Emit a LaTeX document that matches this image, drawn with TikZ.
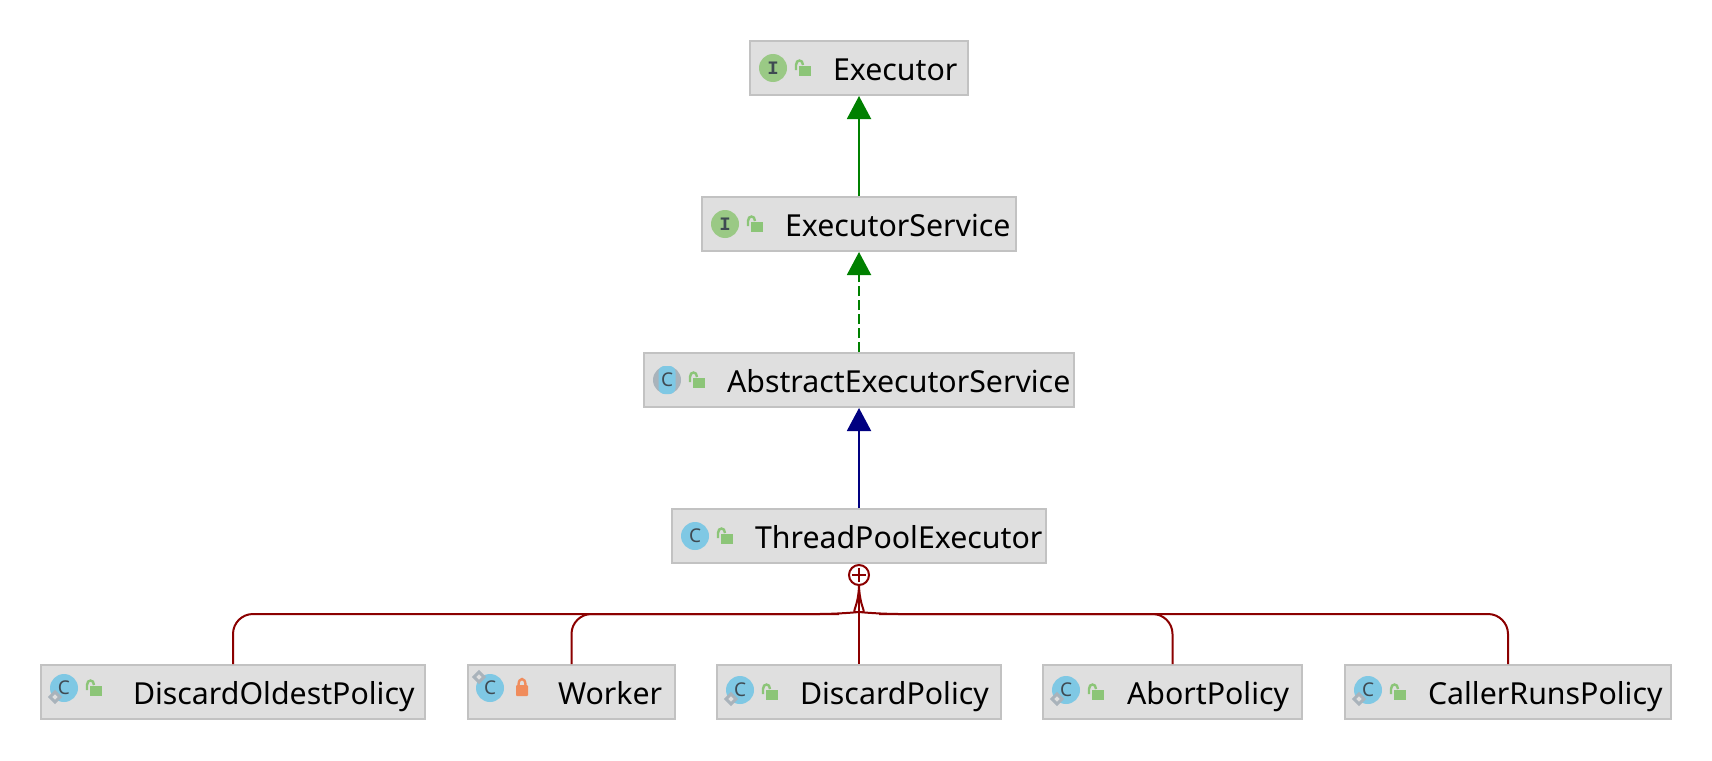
\documentclass[tikz,border=0pt]{standalone}
\usepackage{fontspec}
\setmainfont{Noto Sans}
\newfontfamily\iconmono{Liberation Mono}
\usepackage{xcolor}
\usepackage{tikz}
\usetikzlibrary{arrows.meta,calc,positioning}

\definecolor{boxfill}{HTML}{DFDFDF}
\definecolor{boxline}{HTML}{C2C2C2}
\definecolor{classblue}{HTML}{7FC8E4}
\definecolor{ifacegreen}{HTML}{9AC985}
\definecolor{lockgreen}{HTML}{8CC578}
\definecolor{lockorange}{HTML}{F08C5C}
\definecolor{icongray}{HTML}{A9B3BB}
\definecolor{lettergray}{HTML}{3F4A52}
\definecolor{nestred}{HTML}{8B0000}
\definecolor{extgreen}{HTML}{008000}
\definecolor{extblue}{HTML}{000080}

\tikzset{
    publock/.pic={
        \fill[lockgreen] (4,-2) rectangle (16,8);
        \draw[lockgreen,line width=2.4pt] (1,2) -- (1,-3) .. controls (1,-9) and (8,-9) .. (8,-3);
    },
    privlock/.pic={
        \fill[lockorange,rounded corners=1pt] (0,-3) rectangle (12,8);
        \draw[lockorange,line width=2.4pt] (2.5,-3) .. controls (2.5,-11) and (9.5,-11) .. (9.5,-3);
    }
}

\begin{document}
\begin{tikzpicture}[x=1pt,y=-1pt]
    \tikzstyle{classbox}=[draw=boxline,fill=boxfill,line width=2pt,minimum height=54pt,inner sep=0pt]
    \tikzstyle{classlabel}=[inner sep=0pt,outer sep=0pt,text height=24pt,text depth=0pt,font=\fontsize{30.3}{36}\selectfont]
    \tikzstyle{iconbase}=[circle,minimum size=28pt,inner sep=0pt,text=lettergray,font=\fontsize{19}{22}\selectfont]
    \tikzstyle{classicon}=[iconbase,fill=classblue]
    \tikzstyle{ifaceicon}=[iconbase,fill=ifacegreen,font=\iconmono\fontsize{19}{22}\selectfont\bfseries]
    \tikzstyle{absicon}=[classicon,rectangle,rounded corners=6pt,minimum width=17pt,minimum height=28pt]
    \tikzstyle{toolicon}=[draw=icongray,fill=boxfill,line width=3pt,rotate=45,minimum size=7pt,inner sep=0pt]
    \tikzstyle{inherit}=[line width=2pt,-{Triangle[length=23pt,width=24pt]}]
    \tikzstyle{nested}=[line width=2pt,nestred]

    \useasboundingbox (0,0) rectangle (1712,760);

    % hierarchy
    \node[classbox,minimum width=218pt] (executor) at (859,68) {};
    \node[classbox,minimum width=314pt] (service) at (859,224) {};
    \node[classbox,minimum width=430pt] (abstract) at (859,380) {};
    \node[classbox,minimum width=374pt] (pool) at (859,536) {};

    % inner classes
    \node[classbox,minimum width=384pt] (oldest) at (233,692) {};
    \node[classbox,minimum width=207pt] (worker) at (571.5,692) {};
    \node[classbox,minimum width=284pt] (discard) at (859,692) {};
    \node[classbox,minimum width=259pt] (abort) at (1172.5,692) {};
    \node[classbox,minimum width=326pt] (caller) at (1508,692) {};

    % labels
    \node[classlabel,right=84pt of executor.west] (executortext) {Executor};
    \node[classlabel,right=84pt of service.west] (servicetext) {ExecutorService};
    \node[classlabel,right=84pt of abstract.west] (abstracttext) {AbstractExecutorService};
    \node[classlabel,right=84pt of pool.west] (pooltext) {ThreadPoolExecutor};
    \node[classlabel,right=93pt of oldest.west] (oldesttext) {DiscardOldestPolicy};
    \node[classlabel,right=91pt of worker.west] (workertext) {Worker};
    \node[classlabel,right=84pt of discard.west] (discardtext) {DiscardPolicy};
    \node[classlabel,right=85pt of abort.west] (aborttext) {AbortPolicy};
    \node[classlabel,right=84pt of caller.west] (callertext) {CallerRunsPolicy};

    % icons
    \node[ifaceicon] (executoricon) at ($(executor.west)+(24,0)$) {I};
    \node[ifaceicon] (serviceicon) at ($(service.west)+(24,0)$) {I};
    \node[iconbase,fill=icongray] (abstractback) at ($(abstract.west)+(24,0)$) {};
    \node[absicon] (abstracticon) at (abstractback) {C};
    \node[classicon] (poolicon) at ($(pool.west)+(24,0)$) {C};
    \node[classicon] (oldesticon) at ($(oldest.west)+(24,-4)$) {C};
    \node[toolicon] (oldesttool) at ($(oldesticon)+(-9,9)$) {};
    \node[classicon] (workericon) at ($(worker.west)+(23,-4)$) {C};
    \node[toolicon,rotate=-90] (workertool) at ($(workericon)+(-11,-11)$) {};
    \node[classicon] (discardicon) at ($(discard.west)+(24,-2)$) {C};
    \node[toolicon] (discardtool) at ($(discardicon)+(-9,9)$) {};
    \node[classicon] (aborticon) at ($(abort.west)+(24,-2)$) {C};
    \node[toolicon] (aborttool) at ($(aborticon)+(-9,9)$) {};
    \node[classicon] (callericon) at ($(caller.west)+(24,-2)$) {C};
    \node[toolicon] (callertool) at ($(callericon)+(-9,9)$) {};

    % locks
    \foreach \n in {executor,service,abstract,pool,discard,abort,caller}
        \pic at ($(\n.west)+(46,0)$) {publock};
    \pic at ($(oldest.west)+(46,-4)$) {publock};
    \pic at ($(worker.west)+(49,-4)$) {privlock};

    % hub
    \node[circle,draw=nestred,fill=white,line width=2pt,minimum size=20pt,inner sep=0pt] (plus) at (859,575) {};
    \draw[nested,shorten <=4pt,shorten >=4pt] (plus.west) -- (plus.east);
    \draw[nested,shorten <=4pt,shorten >=4pt] (plus.north) -- (plus.south);
    \coordinate (busl) at (839,614);
    \coordinate (busr) at (879,614);

    \draw[inherit,extgreen] (service.north) -- (executor.south);
    \draw[inherit,extgreen,dash pattern=on 10pt off 4pt] (abstract.north) -- (service.south);
    \draw[inherit,extblue] (pool.north) -- (abstract.south);

    \draw[nested] (plus.south) -- (discard.north);
    \draw[nested] (oldest.north) [rounded corners=20pt] |- (busl) [sharp corners] .. controls (849,613) and (858,611) .. (plus.south);
    \draw[nested] (worker.north) [rounded corners=20pt] |- (busl);
    \draw[nested] (abort.north) [rounded corners=20pt] |- (busr) [sharp corners] .. controls (869,613) and (860,611) .. (plus.south);
    \draw[nested] (caller.north) [rounded corners=20pt] |- (busr);
\end{tikzpicture}
\end{document}
